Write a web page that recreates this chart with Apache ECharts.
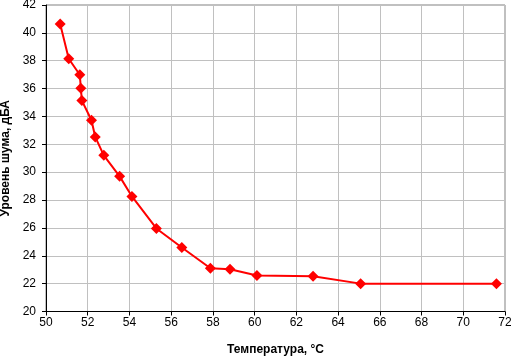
<!DOCTYPE html>
<html><head><meta charset="utf-8">
<script src="https://cdn.jsdelivr.net/npm/echarts@6/dist/echarts.min.js"></script>
<style>html,body{margin:0;padding:0;background:#fff}#c{width:511px;height:357px}</style>
</head><body><div id="c"></div>
<script>
const temperature = [50.68, 51.09, 51.62, 51.67, 51.72, 52.18, 52.36, 52.77, 53.53, 54.12, 55.29, 56.51, 57.88, 58.82, 60.11, 62.80, 65.08, 71.59];
const noise = [40.63, 38.14, 36.99, 36.03, 35.14, 33.73, 32.53, 31.21, 29.70, 28.26, 25.96, 24.59, 23.10, 23.03, 22.58, 22.53, 22.00, 22.00];
const xName = 'Температура, °C';
const yName = 'Уровень шума, дБА';

const font = '"Liberation Sans", Arial, sans-serif';
const chart = echarts.init(document.getElementById('c'), null, {renderer: 'canvas'});
chart.setOption({
  animation: false,
  backgroundColor: '#fff',
  grid: {left: 46, top: 5, right: 6, bottom: 45.5, containLabel: false, outerBoundsMode: 'none', show: true, borderColor: '#808080', borderWidth: 1, backgroundColor: 'transparent'},
  xAxis: {
    type: 'value', min: 50, max: 72, interval: 2,
    name: xName, nameLocation: 'middle', nameGap: 32,
    nameTextStyle: {fontFamily: font, fontSize: 12, fontWeight: 'bold', color: '#000'},
    axisLine: {show: true, onZero: false, lineStyle: {color: '#000', width: 1}},
    axisTick: {show: true, length: 4, lineStyle: {color: '#000'}},
    axisLabel: {fontFamily: font, fontSize: 12, color: '#000', margin: 5},
    splitLine: {show: true, lineStyle: {color: '#c0c0c0', width: 1}}
  },
  yAxis: {
    type: 'value', min: 20, max: 42, interval: 2,
    name: yName, nameLocation: 'middle', nameGap: 34,
    nameTextStyle: {fontFamily: font, fontSize: 12, fontWeight: 'bold', color: '#000'},
    axisLine: {show: true, onZero: false, lineStyle: {color: '#000', width: 1}},
    axisTick: {show: true, length: 4, lineStyle: {color: '#000'}},
    axisLabel: {fontFamily: font, fontSize: 12, color: '#000', margin: 10},
    splitLine: {show: true, lineStyle: {color: '#c0c0c0', width: 1}}
  },
  series: [{
    type: 'line',
    data: temperature.map((t, i) => [t, noise[i]]),
    symbol: 'diamond', symbolSize: 11,
    lineStyle: {color: '#ff0000', width: 2},
    itemStyle: {color: '#ff0000'},
    clip: false
  }]
});
</script></body></html>
